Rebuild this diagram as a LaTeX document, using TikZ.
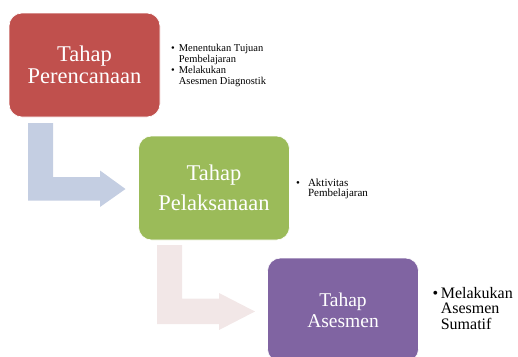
\documentclass[tikz,border=0pt]{standalone}
\usepackage{fontspec}
\setmainfont{Liberation Serif}
\definecolor{cred}{HTML}{C0504D}
\definecolor{cgreen}{HTML}{9BBB59}
\definecolor{cpurple}{HTML}{8064A2}
\definecolor{carrowa}{HTML}{C4CEE2}
\definecolor{carrowb}{HTML}{F2E7E7}
\tikzset{
  stagebox/.style={rounded corners=13pt, minimum width=151pt, minimum height=104pt, inner sep=0pt, text=white, align=center, draw=white, line width=0.6pt},
  bulletlist/.style={anchor=base west, inner sep=0pt, align=left},
}
\begin{document}
\begin{tikzpicture}[x=1pt,y=-1pt]
\path[use as bounding box] (0,0) rectangle (518,356);
\begin{scope}
\clip (0,0) rectangle (518,356);
% block arrows
\fill[carrowa] (28,123) -- (53,123) -- (53,177) -- (100,177) -- (100,170.5) -- (125.5,189) -- (100,207) -- (100,200.5) -- (28,200.5) -- cycle;
\fill[carrowb] (157,245) -- (182,245) -- (182,298.5) -- (219,298.5) -- (219,293) -- (255,311.5) -- (219,330) -- (219,324) -- (157,324) -- cycle;
% boxes
\node[stagebox, fill=cred, font=\fontsize{22.5}{22}\selectfont] (s1) at (84.5,65) {Tahap\\ Perencanaan};
\node[stagebox, fill=cgreen, font=\fontsize{22.5}{30}\selectfont] (s2) at (214,188) {Tahap\\ Pelaksanaan};
\node[stagebox, fill=cpurple, font=\fontsize{19.5}{20.7}\selectfont] (s3) at (343,310) {Tahap\\ Asesmen};
% bullet texts
\node[bulletlist] (b1) at (171,51.7) {\fontsize{10.5}{10.8}\selectfont\begin{tabular}[t]{@{}l@{\hspace{4pt}}l@{}}\textbullet & Menentukan Tujuan\\ & Pembelajaran\\ \textbullet & Melakukan\\ & Asesmen Diagnostik\end{tabular}};
\node[bulletlist] (b2) at (296,186) {\fontsize{11}{10}\selectfont\begin{tabular}[t]{@{}l@{\hspace{8pt}}l@{}}\textbullet & Aktivitas\\ & Pembelajaran\end{tabular}};
\node[bulletlist] (b3) at (432.5,298.3) {\fontsize{16}{15}\selectfont\begin{tabular}[t]{@{}l@{\hspace{2.5pt}}l@{}}\textbullet & Melakukan\\ & Asesmen\\ & Sumatif\end{tabular}};
\end{scope}
\end{tikzpicture}
\end{document}
